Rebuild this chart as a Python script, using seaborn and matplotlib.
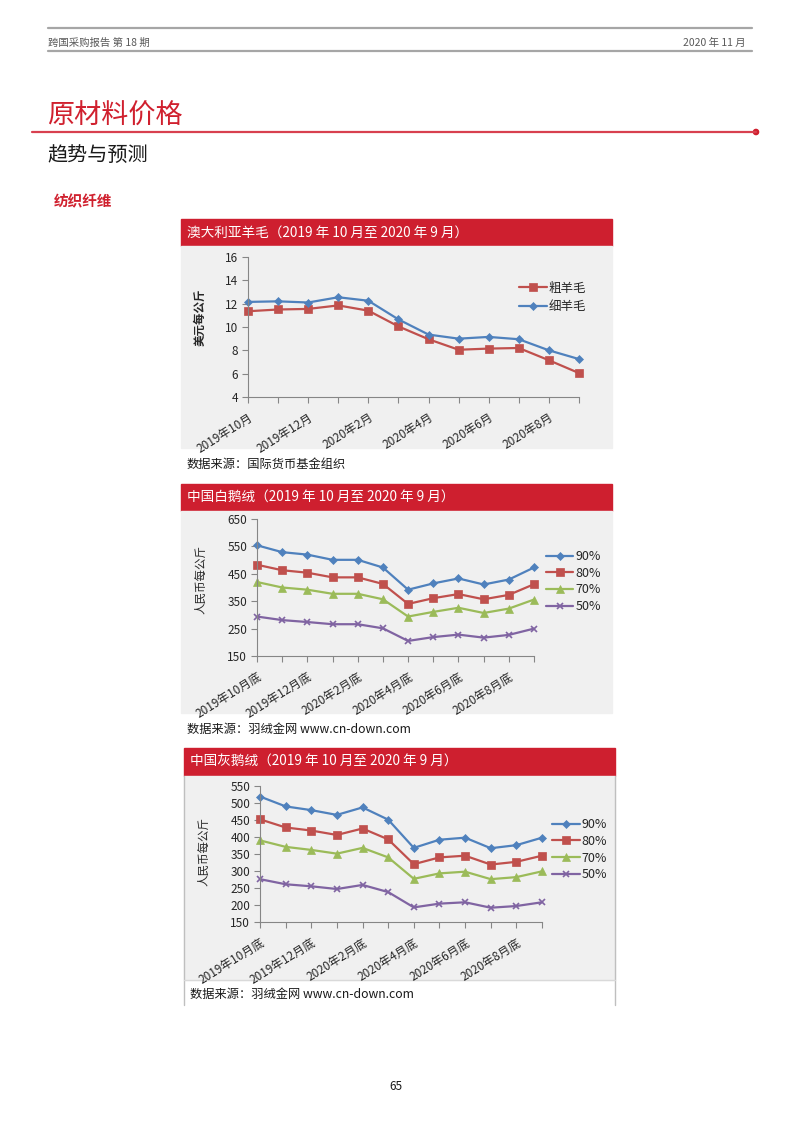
import numpy as np
import matplotlib
matplotlib.use('Agg')
import matplotlib.pyplot as plt
from matplotlib.patches import Rectangle, Circle
import seaborn as sns

# Data
wool_ticks = ['2019年10月', '2019年12月', '2020年2月', '2020年4月', '2020年6月', '2020年8月']
down_ticks = ['2019年10月底', '2019年12月底', '2020年2月底', '2020年4月底', '2020年6月底', '2020年8月底']

# Australian wool, USD per kg
coarse_wool = [11.35, 11.5, 11.55, 11.85, 11.4, 10.05, 8.95, 8.05, 8.15, 8.2, 7.15, 6.05]
fine_wool = [12.15, 12.2, 12.1, 12.55, 12.25, 10.65, 9.35, 9.0, 9.15, 8.95, 8.0, 7.25]

# China white goose down, RMB per kg
white_90 = [554, 529, 520, 501, 501, 473, 392, 415, 433, 411, 429, 473]
white_80 = [483, 463, 454, 437, 437, 413, 340, 361, 376, 357, 373, 412]
white_70 = [420, 400, 392, 377, 377, 357, 294, 311, 326, 307, 323, 356]
white_50 = [294, 281, 274, 266, 266, 251, 205, 219, 228, 217, 227, 250]

# China grey goose down, RMB per kg
grey_90 = [519, 490, 479, 465, 487, 451, 368, 392, 398, 367, 376, 398]
grey_80 = [452, 428, 419, 406, 425, 393, 320, 340, 345, 319, 327, 345]
grey_70 = [390, 371, 362, 351, 368, 340, 277, 293, 298, 276, 282, 299]
grey_50 = [276, 261, 255, 247, 259, 238, 193, 204, 208, 192, 197, 208]

down_names = ['90%', '80%', '70%', '50%']

BLUE, RED, GREEN, PURPLE = '#4F81BD', '#C0504D', '#9BBB59', '#8064A2'
BANNER = '#CE1F2F'
PANEL = '#F0F0F0'

sns.set_theme(style='white')
plt.rcParams['font.family'] = ['Noto Sans CJK SC', 'DejaVu Sans']

W, H = 793, 1122
fig = plt.figure(figsize=(W / 100, H / 100), dpi=100)

# page layer in pixel coordinates
bg = fig.add_axes([0, 0, 1, 1])
bg.set_xlim(0, W)
bg.set_ylim(H, 0)
bg.axis('off')

# running header
bg.plot([48, 752], [28, 28], color='#A6A6A6', lw=1.6)
bg.plot([48, 752], [51, 51], color='#A6A6A6', lw=1.6)
bg.text(48, 43, '跨国采购报告 第 18 期', fontsize=7.5, color='#595959', va='center')
bg.text(746, 43, '2020 年 11 月', fontsize=7.5, color='#595959', va='center', ha='right')

# section titles
bg.text(47, 116, '原材料价格', fontsize=19.5, color='#D0202E', va='center')
bg.plot([32, 756], [132, 132], color='#D8404F', lw=1.6)
bg.add_patch(Circle((756, 132), 2.6, color='#D0202E'))
bg.text(47, 155, '趋势与预测', fontsize=14.5, color='#1A1A1A', va='center')
bg.text(54, 201, '纺织纤维', fontsize=10.5, color='#D0202E', va='center', weight='bold')

# panel backgrounds and banners
bg.add_patch(Rectangle((181, 219), 431, 27, color=BANNER))
bg.add_patch(Rectangle((181, 246), 431, 202, color=PANEL))
bg.text(187, 232.5, '澳大利亚羊毛（2019 年 10 月至 2020 年 9 月）', fontsize=9.8, color='white', va='center')
bg.text(187, 464, '数据来源：国际货币基金组织', fontsize=8.8, color='#1A1A1A', va='center')

bg.add_patch(Rectangle((181, 484), 431, 27, color=BANNER))
bg.add_patch(Rectangle((181, 511), 431, 202, color=PANEL))
bg.text(187, 497.5, '中国白鹅绒（2019 年 10 月至 2020 年 9 月）', fontsize=9.8, color='white', va='center')
bg.text(187, 729, '数据来源：羽绒金网 www.cn-down.com', fontsize=8.8, color='#1A1A1A', va='center')

bg.add_patch(Rectangle((184, 748), 431, 28, color=BANNER))
bg.add_patch(Rectangle((184, 776), 431, 204, color=PANEL))
bg.plot([184, 184], [776, 1005], color='#BFBFBF', lw=1)
bg.plot([615, 615], [776, 1005], color='#BFBFBF', lw=1)
bg.plot([184, 615], [980, 980], color='#D9D9D9', lw=1)
bg.text(190, 762, '中国灰鹅绒（2019 年 10 月至 2020 年 9 月）', fontsize=9.8, color='white', va='center')
bg.text(190, 994, '数据来源：羽绒金网 www.cn-down.com', fontsize=8.8, color='#1A1A1A', va='center')

bg.text(396, 1086, '65', fontsize=8.5, color='#1A1A1A', ha='center', va='center')


def px_axes(x0, y0, x1, y1):
    ax = fig.add_axes([x0 / W, 1 - y1 / H, (x1 - x0) / W, (y1 - y0) / H])
    ax.set_facecolor('none')
    return ax


def draw_chart(ax, series, ylim, yticks, ylabel, ticklabels, label_xy, legend_xy,
               bold_label=False, spacing=0.35):
    for name, vals, color, marker, ms in series:
        sns.lineplot(x=np.arange(len(vals)), y=vals, ax=ax, color=color, marker=marker,
                     markersize=ms, markeredgecolor=color, markeredgewidth=1.2 if marker == 'x' else 0.5,
                     linewidth=1.6, label=name, clip_on=False)
    ax.set_xlim(0, 11)
    ax.set_ylim(*ylim)
    ax.set_yticks(yticks)
    ax.set_yticklabels([str(t) for t in yticks], fontsize=8.5)
    ax.set_xticks(np.arange(0, 12, 2))
    ax.set_xticklabels(ticklabels, rotation=32, ha='right', rotation_mode='anchor', fontsize=8.5)
    ax.set_xticks(np.arange(1, 12, 2), minor=True)
    ax.tick_params(axis='both', which='both', direction='out', length=4, width=0.8,
                   color='#868686', left=True, bottom=True, pad=3)
    ax.tick_params(axis='x', which='major', pad=6)
    for side in ['top', 'right']:
        ax.spines[side].set_visible(False)
    for side in ['left', 'bottom']:
        ax.spines[side].set_color('#868686')
        ax.spines[side].set_linewidth(0.8)
    ax.set_xlabel('')
    ax.set_ylabel(ylabel, fontsize=8.3, weight='bold' if bold_label else 'normal')
    ax.yaxis.set_label_coords(*label_xy)
    ax.legend(loc='upper left', bbox_to_anchor=legend_xy, frameon=False, fontsize=9,
              handlelength=2.2, handletextpad=0.15, labelspacing=spacing, borderpad=0)


ax1 = px_axes(248, 257, 579, 397)
draw_chart(ax1,
           [('粗羊毛', coarse_wool, RED, 's', 5.2), ('细羊毛', fine_wool, BLUE, 'D', 4)],
           (4, 16), [4, 6, 8, 10, 12, 14, 16], '美元每公斤', wool_ticks,
           (-0.127, 0.57), (0.80, 0.868), bold_label=True, spacing=0.45)

ax2 = px_axes(257, 519, 534, 656)
draw_chart(ax2,
           [(down_names[0], white_90, BLUE, 'D', 4), (down_names[1], white_80, RED, 's', 5.2),
            (down_names[2], white_70, GREEN, '^', 5.2), (down_names[3], white_50, PURPLE, 'x', 4.5)],
           (150, 650), [150, 250, 350, 450, 550, 650], '人民币每公斤', down_ticks,
           (-0.18, 0.56), (1.02, 0.82), spacing=0.3)

ax3 = px_axes(260, 786, 542, 922)
draw_chart(ax3,
           [(down_names[0], grey_90, BLUE, 'D', 4), (down_names[1], grey_80, RED, 's', 5.2),
            (down_names[2], grey_70, GREEN, '^', 5.2), (down_names[3], grey_50, PURPLE, 'x', 4.5)],
           (150, 550), [150, 200, 250, 300, 350, 400, 450, 500, 550], '人民币每公斤', down_ticks,
           (-0.177, 0.52), (1.015, 0.81), spacing=0.3)

fig.savefig('out.png', dpi=100)
